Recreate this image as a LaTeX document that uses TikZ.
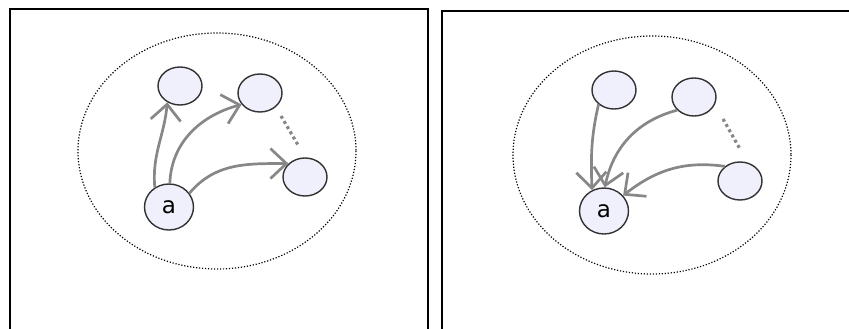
\documentclass[tikz,border=0pt]{standalone}
\usepackage{fontspec}
\setmainfont{DejaVu Sans}
\usepackage{tikz}
\usetikzlibrary{arrows.meta, shapes.geometric}
\definecolor{mynode}{RGB}{240,240,252}
\definecolor{myedge}{RGB}{50,50,50}
\definecolor{mygray}{RGB}{135,135,135}
\tikzset{
  vert/.style={ellipse, draw=myedge, fill=mynode, line width=1.4pt,
    minimum width=44pt, minimum height=38pt, inner sep=0pt,
    font=\fontsize{23}{26}\selectfont},
  avert/.style={vert, minimum width=49pt, minimum height=46pt},
  link/.style={-{Straight Barb[length=16pt, width=30pt]}, line width=2.7pt, color=mygray},
  dotsline/.style={line width=3.2pt, color=mygray, dash pattern=on 3pt off 3pt},
  frame/.style={draw=black, line width=1.8pt},
  cloud/.style={draw=black, line width=1.2pt, dash pattern=on 1.2pt off 1.8pt}
}

\begin{document}
\begin{tikzpicture}[x=1pt, y=-1pt]
  \useasboundingbox (0,0) rectangle (849,329);
  \clip (0,0) rectangle (849,329);

  % Panels
  \draw[frame] (10,9) rectangle (428,340);
  \draw[frame] (442,11) rectangle (860,340);

  % Left panel: a points outwards
  \draw[cloud] (217,151) ellipse [x radius=139, y radius=118];
  \node[vert] (l1) at (180,86) {};
  \node[vert] (l2) at (260,93) {};
  \node[vert] (l3) at (305,177) {};
  \node[avert] (la) at (169,207) {a};
  \draw[link] (la.126) to[out=95, in=-95] (l1.232);
  \draw[link] (la.88) to[out=88, in=195] (l2.212);
  \draw[link] (la.34) to[out=50, in=180] (l3.141);

  % Left dots between neighbours
  \coordinate (ld1) at (281,116);
  \coordinate (ld2) at (298,145);
  \draw[dotsline] (ld1) -- (ld2);

  % Right panel: a is pointed to
  \draw[cloud] (652,155) ellipse [x radius=139, y radius=119];
  \node[vert] (r1) at (614,90) {};
  \node[vert] (r2) at (694,97) {};
  \node[vert] (r3) at (740,181) {};
  \node[avert] (ra) at (604,211) {a};
  \draw[link] (r1.223) to[out=-103, in=92] (ra.120);
  \draw[link] (r2.218) to[out=195, in=78] (ra.88);
  \draw[link] (r3.136) to[out=172, in=38] (ra.39);

  % Right dots between neighbours
  \coordinate (rd1) at (723,119);
  \coordinate (rd2) at (740,149);
  \draw[dotsline] (rd1) -- (rd2);
\end{tikzpicture}
\end{document}
